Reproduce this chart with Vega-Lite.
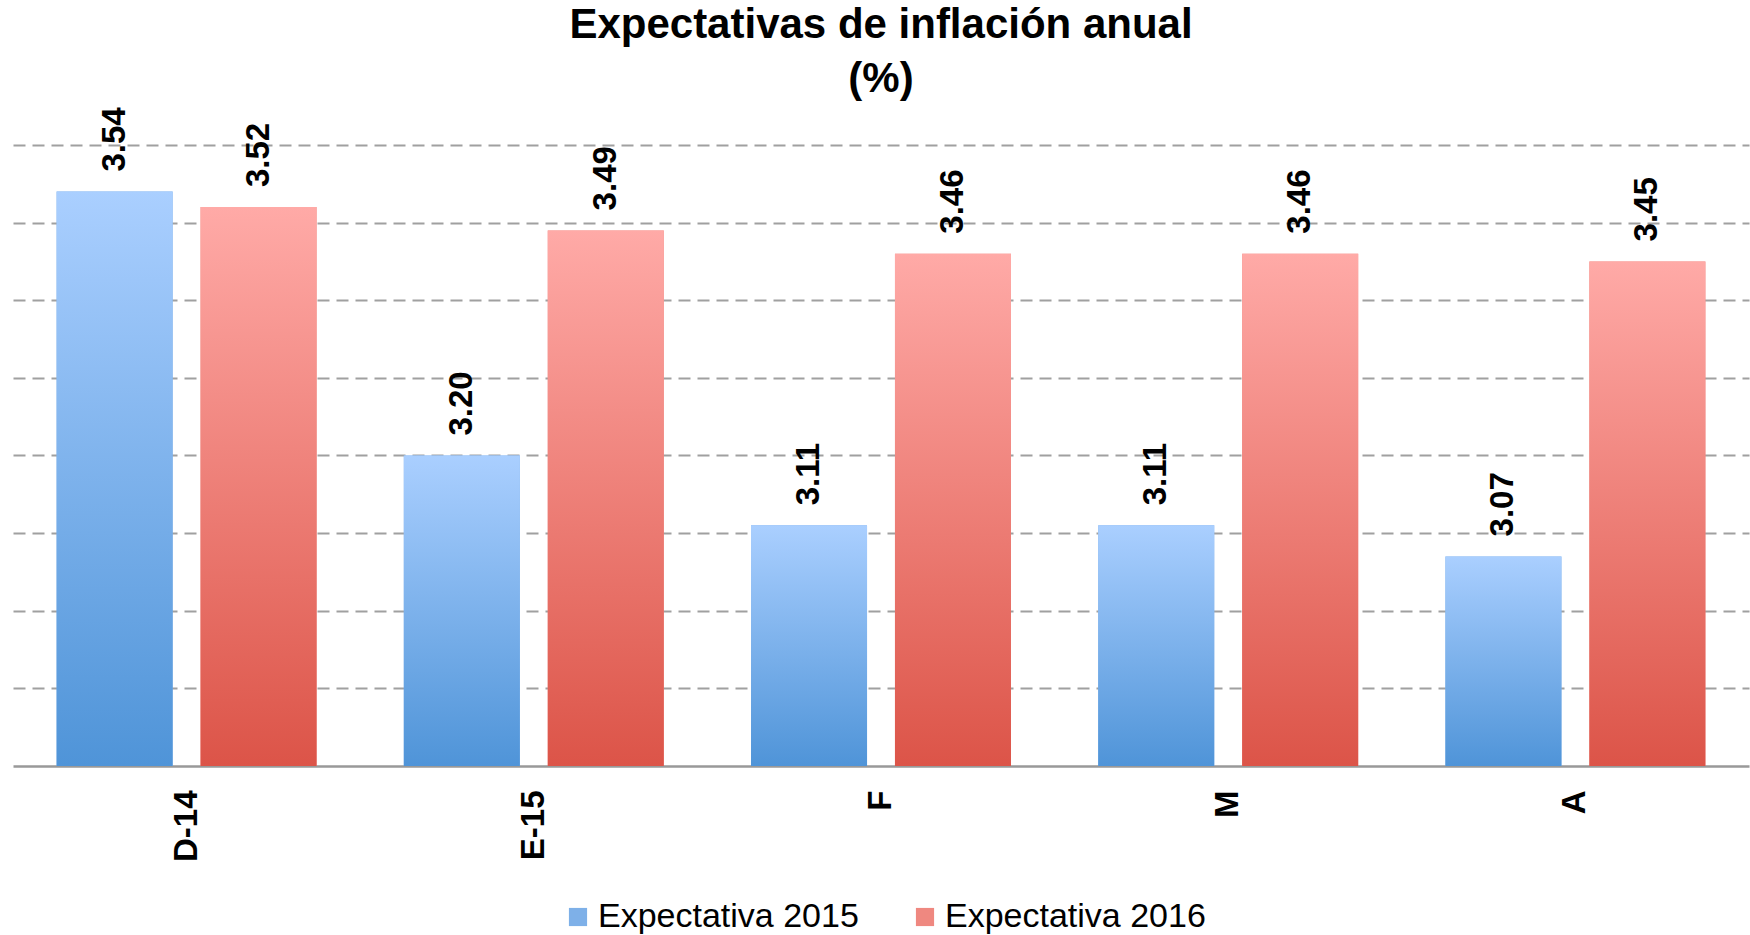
{
  "$schema": "https://vega.github.io/schema/vega-lite/v6.json",
  "width": 1736,
  "height": 621,
  "autosize": {"type": "none"},
  "padding": {"left": 13, "top": 145, "right": 1, "bottom": 169},
  "background": "white",
  "title": {
    "text": "Expectativas de inflación anual",
    "subtitle": "(%)",
    "anchor": "middle",
    "font": "Liberation Sans",
    "fontSize": 42,
    "fontWeight": "bold",
    "color": "black",
    "subtitleFont": "Liberation Sans",
    "subtitleFontSize": 42,
    "subtitleFontWeight": "bold",
    "subtitleColor": "black",
    "subtitlePadding": 12,
    "offset": 6
  },
  "data": {
    "values": [
      {"mes": "D-14", "serie": "Expectativa 2015", "valor": 3.54},
      {"mes": "D-14", "serie": "Expectativa 2016", "valor": 3.52},
      {"mes": "E-15", "serie": "Expectativa 2015", "valor": 3.20},
      {"mes": "E-15", "serie": "Expectativa 2016", "valor": 3.49},
      {"mes": "F", "serie": "Expectativa 2015", "valor": 3.11},
      {"mes": "F", "serie": "Expectativa 2016", "valor": 3.46},
      {"mes": "M", "serie": "Expectativa 2015", "valor": 3.11},
      {"mes": "M", "serie": "Expectativa 2016", "valor": 3.46},
      {"mes": "A", "serie": "Expectativa 2015", "valor": 3.07},
      {"mes": "A", "serie": "Expectativa 2016", "valor": 3.45}
    ]
  },
  "encoding": {
    "x": {
      "field": "mes",
      "type": "nominal",
      "sort": ["D-14", "E-15", "F", "M", "A"],
      "scale": {"paddingInner": 0, "paddingOuter": 0},
      "axis": {
        "title": null,
        "labelAngle": -90,
        "labelFont": "Liberation Sans",
        "labelFontSize": 33,
        "labelFontWeight": "bold",
        "labelColor": "black",
        "ticks": false,
        "tickSize": 0,
        "labelPadding": 24,
        "domainColor": "#999999",
        "domainWidth": 2.5,
        "grid": false
      }
    },
    "xOffset": {
      "field": "serie",
      "type": "nominal",
      "scale": {"paddingInner": 0.194, "paddingOuter": 0.303}
    },
    "y": {
      "field": "valor",
      "type": "quantitative",
      "scale": {"domain": [2.8, 3.6], "nice": false, "zero": false},
      "axis": {
        "title": null,
        "labels": false,
        "ticks": false,
        "domain": false,
        "values": [2.9, 3.0, 3.1, 3.2, 3.3, 3.4, 3.5, 3.6],
        "grid": true,
        "gridColor": "#a0a0a0",
        "gridWidth": 2,
        "gridDash": [12, 7]
      }
    }
  },
  "layer": [
    {
      "mark": {"type": "bar"},
      "encoding": {
        "y2": {"datum": 2.8},
        "color": {
          "field": "serie",
          "type": "nominal",
          "scale": {"domain": ["Expectativa 2015", "Expectativa 2016"], "range": ["#7eb0e8", "#ef8880"]},
          "legend": {
            "title": null,
            "orient": "none",
            "legendX": 548,
            "legendY": 755,
            "direction": "horizontal",
            "symbolType": "square",
            "symbolSize": 330,
            "symbolStrokeWidth": 0,
            "labelFont": "Liberation Sans",
            "labelFontSize": 34,
            "labelLimit": 0,
            "labelColor": "black",
            "labelOffset": 3,
            "columnPadding": 49,
            "encode": {
              "symbols": {
                "update": {
                  "fill": [
                    {"test": "datum.value === 'Expectativa 2015'", "value": {"gradient": "linear", "x1": 0, "y1": 0, "x2": 0, "y2": 1, "stops": [{"offset": 0, "color": "#aacfff"}, {"offset": 1, "color": "#4f94d8"}]}},
                    {"value": {"gradient": "linear", "x1": 0, "y1": 0, "x2": 0, "y2": 1, "stops": [{"offset": 0, "color": "#ffaaa7"}, {"offset": 1, "color": "#dc5448"}]}}
                  ],
                  "opacity": {"value": 1}
                }
              }
            }
          }
        }
      }
    },
    {
      "mark": {"type": "bar"},
      "encoding": {
        "y2": {"datum": 2.8},
        "fill": {
          "condition": {
            "test": "datum.serie === 'Expectativa 2015'",
            "value": {"gradient": "linear", "x1": 0, "y1": 0, "x2": 0, "y2": 1, "stops": [{"offset": 0, "color": "#aacfff"}, {"offset": 1, "color": "#4f94d8"}]}
          },
          "value": {"gradient": "linear", "x1": 0, "y1": 0, "x2": 0, "y2": 1, "stops": [{"offset": 0, "color": "#ffaaa7"}, {"offset": 1, "color": "#dc5448"}]}
        },
        "opacity": {"value": 1}
      }
    },
    {
      "mark": {
        "type": "text",
        "angle": 270,
        "align": "left",
        "baseline": "middle",
        "dx": 20,
        "font": "Liberation Sans",
        "fontSize": 33,
        "fontWeight": "bold",
        "color": "black"
      },
      "encoding": {
        "text": {"field": "valor", "type": "quantitative", "format": ".2f"}
      }
    }
  ],
  "config": {
    "view": {"stroke": null},
    "bar": {"opacity": 1}
  }
}
